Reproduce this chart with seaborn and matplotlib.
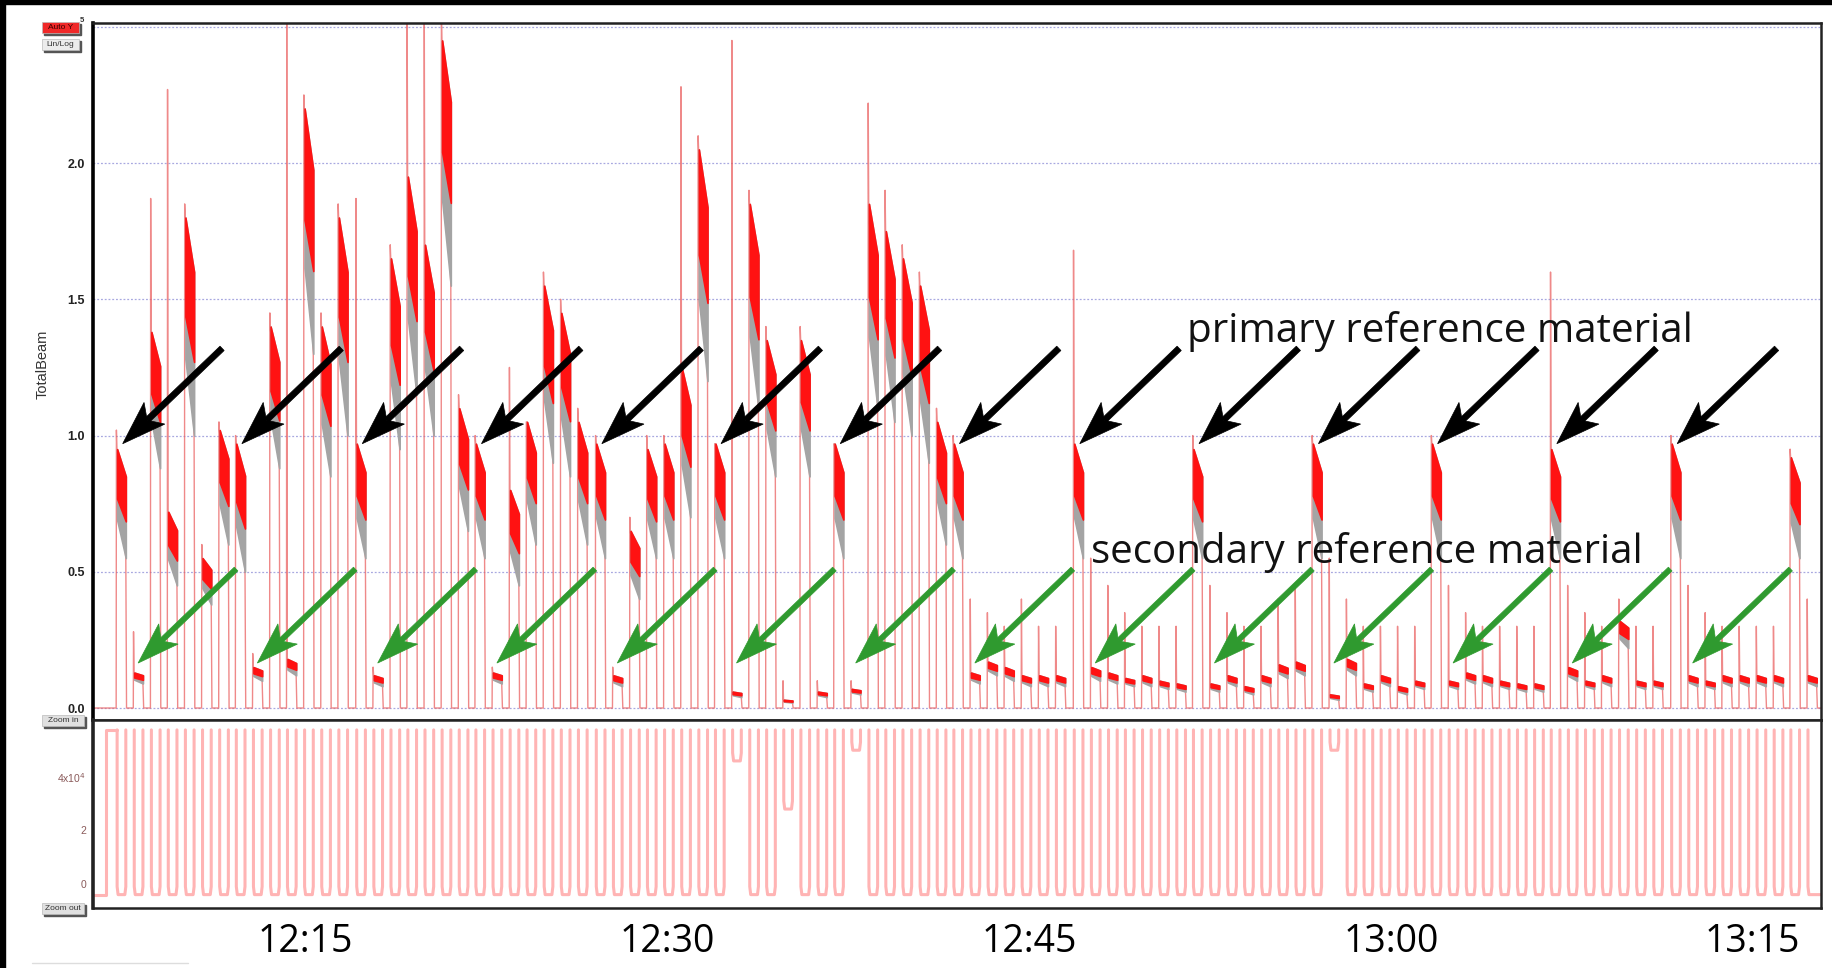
import matplotlib
matplotlib.use("Agg")
import numpy as np
import pandas as pd
import matplotlib.pyplot as plt
import seaborn as sns
from matplotlib.patches import Rectangle, Polygon
from matplotlib.lines import Line2D
from matplotlib.transforms import IdentityTransform

# ==========================
# DATA (time in minutes after 12:00)
# ==========================

# start of each primary reference spot
block_start = [7.21, 12.15, 17.14, 22.08, 27.07, 32.01, 36.95, 41.89,
               46.88, 51.82, 56.77, 61.71, 66.65, 71.64, 76.58]
# spot order inside a block: primary, secondary, 5 unknowns
spot_offset = [0.0, 0.71, 1.42, 2.12, 2.83, 3.54, 4.25]
spot_width = 0.36

# top of the integrated band at spot start
spot_hi = [
    [0.95, 0.13, 1.38, 0.72, 1.80, 0.55, 1.02],
    [0.97, 0.15, 1.40, 0.18, 2.20, 1.40, 1.80],
    [0.97, 0.12, 1.65, 1.95, 1.70, 2.45, 1.10],
    [0.97, 0.13, 0.80, 1.05, 1.55, 1.45, 1.05],
    [0.97, 0.12, 0.65, 0.95, 0.97, 1.25, 2.05],
    [0.97, 0.06, 1.85, 1.35, 0.03, 1.35, 0.06],
    [0.97, 0.07, 1.85, 1.75, 1.65, 1.55, 1.05],
    [0.97, 0.13, 0.17, 0.15, 0.12, 0.12, 0.12],
    [0.97, 0.15, 0.13, 0.11, 0.12, 0.10, 0.09],
    [0.95, 0.09, 0.12, 0.08, 0.12, 0.16, 0.17],
    [0.97, 0.05, 0.18, 0.09, 0.12, 0.08, 0.10],
    [0.97, 0.10, 0.13, 0.12, 0.10, 0.09, 0.09],
    [0.95, 0.15, 0.10, 0.12, 0.32, 0.10, 0.10],
    [0.97, 0.12, 0.10, 0.12, 0.12, 0.12, 0.12],
    [0.92, 0.12],
]
# bottom of the band at spot end
spot_lo = [
    [0.55, 0.09, 0.88, 0.45, 1.00, 0.38, 0.60],
    [0.50, 0.10, 0.88, 0.12, 1.30, 0.85, 1.00],
    [0.55, 0.08, 0.95, 1.15, 1.00, 1.55, 0.65],
    [0.55, 0.09, 0.45, 0.60, 0.90, 0.85, 0.60],
    [0.55, 0.08, 0.40, 0.55, 0.55, 0.70, 1.20],
    [0.55, 0.04, 1.10, 0.85, 0.02, 0.85, 0.04],
    [0.55, 0.05, 1.10, 1.05, 1.00, 0.90, 0.60],
    [0.55, 0.09, 0.12, 0.10, 0.08, 0.08, 0.08],
    [0.55, 0.10, 0.09, 0.08, 0.08, 0.07, 0.06],
    [0.55, 0.06, 0.08, 0.05, 0.08, 0.11, 0.12],
    [0.55, 0.03, 0.12, 0.06, 0.08, 0.05, 0.07],
    [0.55, 0.07, 0.09, 0.08, 0.07, 0.06, 0.06],
    [0.55, 0.10, 0.07, 0.08, 0.22, 0.07, 0.07],
    [0.55, 0.08, 0.07, 0.08, 0.08, 0.08, 0.08],
    [0.55, 0.08],
]
# peak of the raw TotalBeam trace at spot start
spot_spike = [
    [1.02, 0.28, 1.87, 2.27, 1.85, 0.60, 1.05],
    [1.00, 0.20, 1.45, 2.55, 2.25, 1.45, 1.85],
    [1.87, 0.15, 1.70, 2.55, 2.55, 2.55, 1.15],
    [1.00, 0.15, 1.25, 1.05, 1.60, 1.50, 1.10],
    [1.00, 0.15, 0.70, 1.00, 1.00, 2.28, 2.10],
    [0.97, 2.45, 1.90, 1.40, 0.10, 1.40, 0.10],
    [0.97, 0.10, 2.22, 1.90, 1.70, 1.60, 1.10],
    [1.00, 0.40, 0.35, 0.30, 0.40, 0.30, 0.30],
    [1.68, 0.55, 0.45, 0.35, 0.30, 0.30, 0.30],
    [1.00, 0.45, 0.35, 0.30, 0.30, 0.40, 0.45],
    [1.00, 0.55, 0.40, 0.30, 0.30, 0.30, 0.30],
    [1.00, 0.45, 0.35, 0.30, 0.30, 0.30, 0.30],
    [1.60, 0.45, 0.35, 0.30, 0.40, 0.30, 0.30],
    [1.00, 0.45, 0.35, 0.30, 0.30, 0.30, 0.30],
    [0.95, 0.40],
]

# lower panel: gas signal, suppressed while a spot is ablated
laser_top = 5.76e4
laser_base = -0.4e4
# spots where the suppression was only partial
dip_block = [5, 5, 6, 10]
dip_spot = [1, 4, 1, 1]
dip_floor = [4.6e4, 2.8e4, 5.0e4, 5.0e4]

time_ticks = [15, 30, 45, 60, 75]
time_labels = ["12:15", "12:30", "12:45", "13:00", "13:15"]
beam_ticks = [0.0, 0.5, 1.0, 1.5, 2.0, 2.5]
beam_labels = ["0.0", "0.5", "1.0", "1.5", "2.0", ""]
laser_ticks = [0, 2e4, 4e4]
laser_labels = ["0", "2", "4x10$^{4}$"]

x_min, x_max = 6.21, 77.83

# ==========================
# SPOT TABLE
# ==========================

floors = {(b, j): f for b, j, f in zip(dip_block, dip_spot, dip_floor)}
rows = []
for b, t_block in enumerate(block_start):
    for j, hi in enumerate(spot_hi[b]):
        rows.append({"t0": t_block + spot_offset[j], "hi": hi,
                     "lo": spot_lo[b][j], "spike": spot_spike[b][j],
                     "floor": floors.get((b, j), laser_base)})
spots = pd.DataFrame(rows)

# ==========================
# FIGURE
# ==========================

sns.set_style("white")
plt.rcParams["font.family"] = ["Liberation Sans", "DejaVu Sans"]

W, H = 1833, 968
fig = plt.figure(figsize=(W / 100, H / 100), dpi=100)


def fx(px):
    return px / W


def fy(py):
    return 1 - py / H


ax = fig.add_axes([fx(93), fy(720), fx(1821) - fx(93), fy(23) - fy(720)])
ax2 = fig.add_axes([fx(93), fy(908), fx(1821) - fx(93), fy(720) - fy(908)])

# ==========================
# TOP PANEL
# ==========================

tx, ty = [x_min], [0.0]
for s in spots.itertuples():
    t1 = s.t0 + spot_width
    tx += [s.t0 - 0.04, s.t0 - 0.03, s.t0 - 0.01, t1, t1 + 0.03]
    ty += [0.0, s.spike, s.hi, s.lo, 0.0]
tx.append(x_max)
ty.append(0.0)

for v in beam_ticks:
    ax.axhline(v, color="#a8a8e0", lw=0.9, ls=(0, (1.5, 1.5)), zorder=0)

sns.lineplot(x=tx, y=ty, sort=False, estimator=None, ax=ax,
             color="#ea6262", lw=1.0, alpha=0.75, zorder=2)

for s in spots.itertuples():
    xs = [s.t0, s.t0 + spot_width]
    span = s.hi - s.lo
    upper = [s.hi, s.hi - 0.25 * span]
    lower = [s.lo + 0.35 * span, s.lo]
    red_low = [upper[0] - 0.7 * (upper[0] - lower[0]),
               upper[1] - 0.55 * (upper[1] - lower[1])]
    ax.fill_between(xs, lower, upper, color="#a4a4a4", lw=1.2, zorder=3)
    ax.fill_between(xs, red_low, upper, color="#ff1212", lw=1.2, zorder=4)

ax.set_xlim(x_min, x_max)
ax.set_ylim(-0.044, 2.514)
ax.set_xticks([])
ax.set_yticks(beam_ticks)
ax.set_yticklabels(beam_labels, fontweight="bold")
ax.tick_params(axis="y", direction="out", length=4, width=1.5,
               labelsize=9, pad=2, colors="#222222")
for side in ["top", "right", "bottom"]:
    ax.spines[side].set_color("#222222")
    ax.spines[side].set_linewidth(1.8)
ax.spines["left"].set_color("black")
ax.spines["left"].set_linewidth(2.6)
ax.set_ylabel("TotalBeam", fontsize=10.5, color="#333333")
ax.yaxis.set_label_coords(-0.025, 0.51)


# notched arrows, drawn in pixels so the heads keep their shape
def arrow(tip, tail, color, shaft, head_len, head_half, notch):
    p_tip = ax.transData.transform(tip)
    p_tail = ax.transData.transform(tail)
    u = (p_tail - p_tip) / np.hypot(*(p_tail - p_tip))
    n = np.array([-u[1], u[0]])
    base = p_tip + u * head_len
    back = p_tip + u * (head_len - notch)
    head = [p_tip, base + n * head_half, back, base - n * head_half]
    body = [back + n * shaft / 2, p_tail + n * shaft / 2,
            p_tail - n * shaft / 2, back - n * shaft / 2]
    for pts in (body, head):
        ax.add_patch(Polygon(pts, closed=True, facecolor=color,
                             edgecolor=color, lw=0.5,
                             transform=IdentityTransform(), zorder=6))


for t_block in block_start[:14]:
    arrow((t_block + 0.23, 0.97), (t_block + 4.35, 1.32), "black",
          6.0, 44, 15, 10)
    arrow((t_block + 0.87, 0.165), (t_block + 4.93, 0.51), "#2f9a2f",
          5.2, 42, 14, 10)

ax.text(51.55, 1.383, "primary reference material", fontsize=29,
        family=["Open Sans", "DejaVu Sans"], ha="left", va="center",
        color="#111111", zorder=7)
ax.text(47.57, 0.572, "secondary reference material", fontsize=29,
        family=["Open Sans", "DejaVu Sans"], ha="left", va="center",
        color="#111111", zorder=7)

# ==========================
# BOTTOM PANEL
# ==========================

# one U-shaped dip per ablated spot, joined by the high gas level
seg_x, seg_y, seg_id = [], [], []
for i, s in enumerate(spots.itertuples()):
    t1 = s.t0 + spot_width
    if i == 0:
        xs = [x_min, s.t0 - 0.45, s.t0 - 0.45, s.t0 - 0.02]
        ys = [laser_base, laser_base, laser_top, laser_top]
        seg_x += xs
        seg_y += ys
        seg_id += [-1] * len(xs)
    xs = [s.t0, s.t0, s.t0 + 0.04, t1 - 0.04, t1, t1]
    ys = [laser_top, s.floor + 0.3e4, s.floor, s.floor, s.floor + 0.3e4,
          laser_top]
    if i == len(spots) - 1:
        xs = xs[:4] + [x_max]
        ys = ys[:4] + [s.floor]
    seg_x += xs
    seg_y += ys
    seg_id += [i] * len(xs)
laser = pd.DataFrame({"t": seg_x, "v": seg_y, "seg": seg_id})

sns.lineplot(data=laser, x="t", y="v", units="seg", estimator=None,
             sort=False, ax=ax2, color="#ffb4b4", lw=2.2)

ax2.set_xlim(x_min, x_max)
ax2.set_ylim(-0.9e4, 6.13e4)
ax2.set_ylabel("")
ax2.set_xlabel("")
ax2.set_yticks(laser_ticks)
ax2.set_yticklabels(laser_labels)
ax2.tick_params(axis="y", direction="out", length=3, width=1,
                labelsize=7.5, pad=2, colors="#8a5a5a")
ax2.set_xticks(time_ticks)
ax2.set_xticklabels(time_labels, family=["Open Sans", "DejaVu Sans"])
ax2.tick_params(axis="x", direction="out", length=7, width=1.2,
                labelsize=27, pad=4, colors="black")
for side in ["top", "right", "bottom", "left"]:
    ax2.spines[side].set_color("#222222")
    ax2.spines[side].set_linewidth(1.8)
ax2.spines["left"].set_linewidth(2.6)

# ==========================
# BUTTONS AND FRAME
# ==========================


def button(x0, y0, x1, y1, label, face, text_color):
    fig.add_artist(Rectangle((fx(x0) + 0.0012, fy(y1) - 0.002),
                             fx(x1) - fx(x0), fy(y0) - fy(y1),
                             transform=fig.transFigure, color="#555555",
                             zorder=9))
    fig.add_artist(Rectangle((fx(x0), fy(y1)), fx(x1) - fx(x0),
                             fy(y0) - fy(y1), transform=fig.transFigure,
                             facecolor=face, edgecolor="#bbbbbb", lw=0.5,
                             zorder=10))
    fig.text(fx((x0 + x1) / 2), fy((y0 + y1) / 2), label, fontsize=6,
             ha="center", va="center", color=text_color, zorder=11)


button(42, 22, 79, 33, "Auto Y", "#f02828", "#3a0000")
button(42, 39, 79, 50, "Lin/Log", "#ececec", "#333333")
button(42, 715, 84, 726, "Zoom in", "#e0e0e0", "#333333")
button(42, 903, 84, 914, "Zoom out", "#e0e0e0", "#333333")

# the top tick label peeks out from behind the Auto Y button
fig.text(fx(81.5), fy(20), "5", fontsize=5.5, fontweight="bold",
         ha="center", va="center", color="#333333")

fig.add_artist(Rectangle((0, 0), fx(5), 1, transform=fig.transFigure,
                         color="black", zorder=12))
fig.add_artist(Rectangle((0, fy(4)), 1, fy(0) - fy(4),
                         transform=fig.transFigure, color="black", zorder=12))
fig.add_artist(Line2D([fx(32), fx(188)], [fy(963), fy(963)],
                      transform=fig.transFigure, color="#dddddd", lw=1))

fig.savefig("out.png", dpi=100)
plt.close(fig)
